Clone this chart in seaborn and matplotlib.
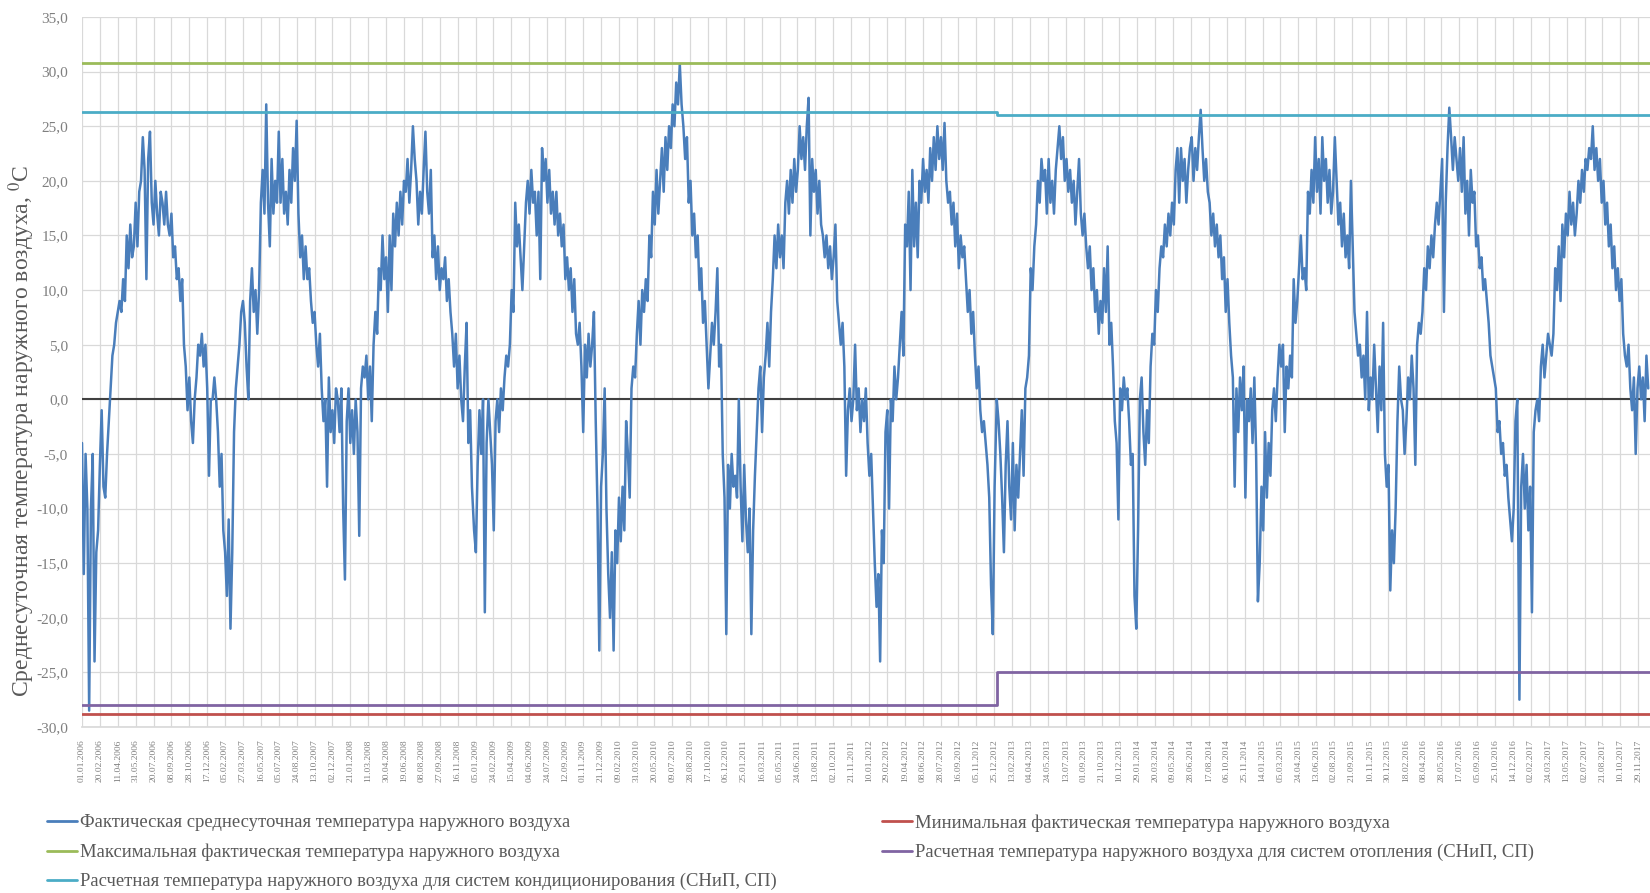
import pandas as pd
import seaborn as sns
import matplotlib.pyplot as plt
from matplotlib.lines import Line2D
from matplotlib.ticker import FuncFormatter

# daily mean outdoor temperature, every 5 days (73 points per year)
t2006 = [-4, -16, -5, -10, -28.5, -10, -5, -24, -14, -12, -6, -1, -8, -9, -5, -2, 1, 4, 5, 7,
         8, 9, 8, 11, 9, 15, 12, 16, 13, 14, 18, 14, 19, 20, 24, 21, 11, 22, 24.5, 18,
         16, 20, 17, 15, 19, 18, 16, 19, 16, 15, 17, 13, 14, 11, 12, 9, 11, 5, 3, -1,
         2, -2, -4, 0, 2, 5, 4, 6, 3, 5, 1, -7, 0]
t2007 = [0, 2, 0, -3, -8, -5, -12, -14, -18, -11, -21, -14, -3, 1, 3, 5, 8, 9, 7, 3,
         0, 9, 12, 8, 10, 6, 10, 18, 21, 17, 27, 18, 14, 22, 17, 20, 18, 24.5, 18, 22,
         17, 19, 16, 21, 18, 23, 20, 25.5, 17, 13, 15, 11, 14, 11, 12, 9, 7, 8, 5, 3,
         6, 1, -2, 0, -8, 2, -3, -1, -4, 1, 0, -3, 1]
t2008 = [-10, -16.5, -2, 1, -4, -1, -5, 0, -3, -12.5, 1, 3, 2, 4, 0, 3, -2, 5, 8, 6,
         12, 10, 15, 11, 13, 8, 15, 10, 17, 14, 18, 15, 19, 16, 20, 19, 22, 18, 21, 25,
         22, 20, 16, 19, 17, 21, 24.5, 19, 17, 21, 13, 15, 11, 14, 10, 12, 11, 13, 9, 11,
         8, 6, 3, 6, 1, 4, 0, -2, 3, 7, -4, -1, -8]
t2009 = [-12, -14, -6, -1, -5, 0, -19.5, -4, 0, -3, -6, -12, -2, 0, -3, 1, -1, 2, 4, 3,
         5, 10, 8, 18, 14, 16, 13, 10, 14, 18, 20, 17, 21, 18, 19, 15, 19, 11, 23, 20,
         22, 18, 21, 17, 19, 16, 19, 15, 17, 14, 16, 11, 13, 10, 12, 8, 11, 6, 5, 7,
         3, -3, 5, 2, 6, 3, 5, 8, -2, -10, -23, -8, -5]
t2010 = [1, -10, -16, -20, -14, -23, -12, -15, -9, -13, -8, -12, -2, -5, -9, 1, 3, 2, 6, 9,
         5, 10, 8, 11, 9, 15, 13, 19, 16, 21, 17, 20, 23, 19, 24, 21, 25, 23, 27, 25,
         29, 27, 30.7, 27, 25, 22, 24, 18, 20, 15, 17, 13, 15, 10, 12, 7, 9, 5, 1, 4,
         7, 5, 8, 12, 3, 5, -5, -9, -21.5, -6, -10, -5, -8]
t2011 = [-7, -9, 0, -8, -13, -6, -11, -14, -10, -21.5, -12, -7, -3, 1, 3, -3, 2, 4, 7, 3,
         8, 11, 15, 12, 16, 13, 15, 12, 18, 20, 17, 21, 18, 22, 19, 21, 25, 22, 24, 21,
         25, 27.6, 15, 22, 19, 21, 17, 20, 16, 15, 13, 15, 12, 14, 11, 13, 16, 9, 7, 5,
         7, 3, -7, -1, 1, -2, 0, 5, -1, 1, -3, 0, -2]
t2012 = [1, -4, -7, -5, -10, -15, -19, -16, -24, -12, -15, -3, -1, -10, 0, -2, 3, 0, 2, 5,
         8, 4, 16, 14, 19, 10, 21, 14, 18, 13, 20, 18, 22, 19, 21, 18, 23, 20, 24, 21,
         25, 22, 24, 21, 25.3, 20, 18, 19, 16, 18, 14, 17, 12, 15, 13, 14, 11, 8, 10, 6,
         8, 4, 1, 3, -1, -3, -2, -4, -6, -9, -17, -21.5, -8]
t2013 = [0, -2, -5, -9, -14, -6, -2, -8, -11, -4, -12, -6, -9, -5, -1, -7, 1, 2, 4, 12,
         10, 14, 16, 20, 18, 22, 20, 21, 17, 22, 18, 20, 17, 21, 23, 25, 22, 24, 20, 22,
         19, 21, 18, 20, 16, 19, 22, 17, 15, 17, 14, 12, 14, 10, 12, 8, 10, 6, 9, 7,
         12, 8, 14, 5, 7, 3, -2, -4, -11, 1, -1, 2, 0]
t2014 = [1, -2, -6, -5, -18, -21, -12, 0, 2, -3, -6, -1, -4, 3, 6, 5, 10, 8, 12, 14,
         13, 16, 14, 17, 15, 18, 16, 21, 23, 18, 23, 20, 22, 18, 21, 23, 24, 20, 23, 21,
         24, 26.5, 23, 20, 22, 19, 18, 15, 17, 14, 16, 13, 15, 11, 13, 8, 11, 7, 4, 2,
         -8, 1, -3, 2, -1, 3, -9, 0, -2, 1, -4, 2, -5]
t2015 = [-18.5, -15, -8, -12, -3, -9, -4, -7, -1, 1, -2, 2, 5, 3, 5, -3, 3, 1, 4, 2,
         11, 7, 9, 12, 15, 11, 12, 10, 19, 17, 21, 18, 24, 19, 22, 17, 24, 20, 22, 18,
         21, 17, 19, 24, 20, 16, 18, 14, 17, 13, 15, 12, 20, 14, 8, 6, 4, 5, 2, 4,
         0, 8, -1, 2, 0, 5, 1, -3, 3, -1, 7, -5, -8]
t2016 = [-6, -17.5, -12, -15, -10, -2, 3, 0, -1, -5, -2, 2, 0, 4, 1, -6, 5, 7, 6, 8,
         12, 10, 14, 12, 15, 13, 16, 18, 16, 19, 22, 8, 18, 23, 26.7, 24, 21, 24, 22, 20,
         23, 19, 24, 17, 20, 15, 21, 18, 19, 14, 15, 12, 13, 10, 11, 9, 7, 4, 3, 2,
         1, -3, -2, -5, -4, -7, -6, -9, -11, -13, -10, -2, 0]
t2017 = [-27.5, -8, -5, -10, -6, -12, -8, -19.5, -3, -1, 0, -2, 3, 5, 2, 4, 6, 5, 4, 6,
         12, 10, 14, 9, 16, 13, 17, 15, 19, 16, 18, 15, 17, 20, 18, 21, 19, 22, 21, 23,
         22, 25, 21, 23, 20, 22, 18, 20, 16, 18, 14, 16, 12, 14, 10, 12, 9, 11, 6, 4,
         3, 5, 1, -1, 2, -5, 1, 3, 0, 2, -2, 4, 1]

years = list(range(2006, 2018))
year_series = [t2006, t2007, t2008, t2009, t2010, t2011,
               t2012, t2013, t2014, t2015, t2016, t2017]

# constant levels
t_max_fact = 30.8
t_min_fact = -28.8
# design temperatures (SNiP until 2012, SP from 2013)
design_dates = ["2006-01-01", "2013-01-01", "2018-01-01"]
t_heat = [-28.0, -25.0, -25.0]
t_cond = [26.3, 26.0, 26.0]

labels = [
    "Фактическая среднесуточная температура наружного воздуха",
    "Максимальная фактическая температура наружного воздуха",
    "Расчетная температура наружного воздуха для систем кондиционирования (СНиП, СП)",
    "Минимальная фактическая температура наружного воздуха",
    "Расчетная температура наружного воздуха для систем отопления (СНиП, СП)",
]

c_fact = "#4a7ebb"
c_max = "#9bbb59"
c_cond = "#4bacc6"
c_min = "#c0504d"
c_heat = "#8064a2"

frames = []
for y, vals in zip(years, year_series):
    d = pd.date_range(f"{y}-01-01", periods=len(vals), freq="5D")
    frames.append(pd.DataFrame({"date": d, "temp": vals}))
df = pd.concat(frames, ignore_index=True)

start = pd.Timestamp("2006-01-01")
end = pd.Timestamp("2018-01-01")

sns.set_theme(style="whitegrid")
plt.rcParams["font.family"] = ["Liberation Serif", "DejaVu Serif"]
plt.rcParams["mathtext.fontset"] = "stix"

fig = plt.figure(figsize=(16.5, 8.93), dpi=100)
ax = fig.add_axes([82 / 1650, 1 - 727 / 893, 1 - 82 / 1650, 710 / 893])

sns.lineplot(data=df, x="date", y="temp", color=c_fact, lw=1.8, ax=ax)
sns.lineplot(x=[start, end], y=[t_max_fact, t_max_fact], color=c_max, lw=2, ax=ax)
sns.lineplot(x=pd.to_datetime(design_dates), y=t_cond, color=c_cond, lw=2,
             drawstyle="steps-post", ax=ax)
sns.lineplot(x=[start, end], y=[t_min_fact, t_min_fact], color=c_min, lw=2, ax=ax)
sns.lineplot(x=pd.to_datetime(design_dates), y=t_heat, color=c_heat, lw=2,
             drawstyle="steps-post", ax=ax)
ax.axhline(0, color="#404040", lw=1.5, zorder=1)

ax.set_xlim(start, end)
ax.set_ylim(-30, 35)
ax.set_yticks(range(-30, 36, 5))
ax.yaxis.set_major_formatter(FuncFormatter(lambda v, p: f"{v:.1f}".replace(".", ",")))

ticks = pd.date_range("2006-01-01", "2017-12-31", freq="50D")
ax.set_xticks(ticks)
ax.set_xticklabels([t.strftime("%d.%m.%Y") for t in ticks], rotation=90,
                   fontsize=6.8, color="#7f7f7f")
ax.tick_params(axis="y", labelsize=11, labelcolor="#7f7f7f", pad=4)
ax.tick_params(axis="x", pad=3)

ax.grid(True, color="#d9d9d9", lw=0.9)
for s in ax.spines.values():
    s.set_visible(False)
ax.spines["bottom"].set_visible(True)
ax.spines["bottom"].set_color("#d9d9d9")

ax.set_xlabel("")
ax.set_ylabel("")
fig.text(22 / 1650, 1 - 431 / 893,
         "Среднесуточная температура наружного воздуха, $^{0}$C",
         rotation=90, ha="center", va="center", fontsize=17, color="#595959")

handles = [Line2D([], [], color=c, lw=2) for c in (c_fact, c_max, c_cond, c_min, c_heat)]
leg_kw = dict(frameon=False, fontsize=13.4, handlelength=1.6, handletextpad=0.15,
              labelspacing=0.65, labelcolor="#595959", borderaxespad=0)
fig.legend(handles[:3], labels[:3], loc="upper left",
           bbox_to_anchor=(40 / 1650, 1 - 807 / 893), **leg_kw)
fig.legend(handles[3:], labels[3:], loc="upper left",
           bbox_to_anchor=(875 / 1650, 1 - 807 / 893), **leg_kw)

fig.savefig("out.png", dpi=100)
